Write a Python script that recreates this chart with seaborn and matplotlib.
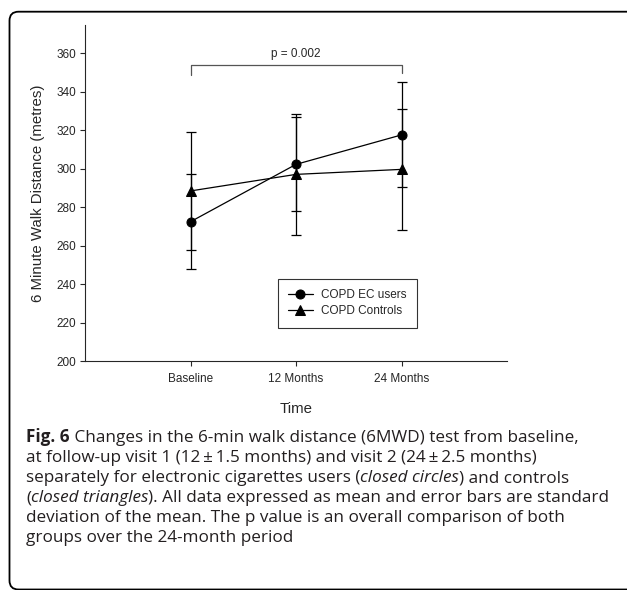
import numpy as np
import pandas as pd
import matplotlib
matplotlib.use("Agg")
import matplotlib.pyplot as plt
import seaborn as sns
from matplotlib.patches import FancyBboxPatch
from matplotlib.transforms import IdentityTransform

# -----------------------------
# DATA
# -----------------------------
visits = ["Baseline", "12 Months", "24 Months"]
groups = ["COPD EC users", "COPD Controls"]
ec_mean = [272.5, 302.3, 317.6]
ec_sd = [24.7, 24.4, 27.3]
ctrl_mean = [288.5, 297.1, 299.7]
ctrl_sd = [30.8, 31.4, 31.5]
p_text = "p = 0.002"

caption_lines = [
    [("Fig. 6", "bold"), (" Changes in the 6-min walk distance (6MWD) test from baseline,", "normal")],
    [("at follow-up visit 1 (12\u2009\u00b1\u20091.5 months) and visit 2 (24\u2009\u00b1\u20092.5 months)", "normal")],
    [("separately for electronic cigarettes users (", "normal"), ("closed circles", "italic"),
     (") and controls", "normal")],
    [("(", "normal"), ("closed triangles", "italic"),
     ("). All data expressed as mean and error bars are standard", "normal")],
    [("deviation of the mean. The p value is an overall comparison of both", "normal")],
    [("groups over the 24-month period", "normal")],
]

# -----------------------------
# STYLE
# -----------------------------
sns.set_style("ticks")
plt.rcParams["font.family"] = ["Liberation Sans", "DejaVu Sans"]
plt.rcParams["axes.linewidth"] = 0.8

W, H = 627, 590
fig = plt.figure(figsize=(W / 100, H / 100), dpi=100)

# axes placed in pixel terms
ax_l, ax_r, ax_t, ax_b = 85, 507, 25, 361.3
ax = fig.add_axes([ax_l / W, 1 - ax_b / H, (ax_r - ax_l) / W, (ax_b - ax_t) / H])

pos = np.arange(1, len(visits) + 1)
df = pd.DataFrame({
    "pos": np.concatenate([pos, pos]),
    "distance": ec_mean + ctrl_mean,
    "group": [groups[0]] * 3 + [groups[1]] * 3,
})

sns.lineplot(
    data=df, x="pos", y="distance", hue="group", style="group",
    hue_order=groups, style_order=groups,
    palette=["black", "black"], markers={groups[0]: "o", groups[1]: "^"},
    dashes=False, markersize=6.5, markeredgecolor="black", linewidth=0.9, ax=ax,
)

for m, s in [(ec_mean, ec_sd), (ctrl_mean, ctrl_sd)]:
    ax.errorbar(pos, m, yerr=s, fmt="none", ecolor="black", elinewidth=0.9,
                capsize=3.6, capthick=0.9, zorder=1)

ax.set_xlim(0, 4)
ax.set_ylim(200, 374.7)
ax.set_yticks(np.arange(200, 361, 20))
ax.set_xticks(pos)
ax.set_xticklabels(visits)
ax.tick_params(axis="both", labelsize=8.5, direction="out", length=3.6, width=0.8, pad=3)
ax.tick_params(axis="x", pad=5)
ax.set_xlabel("Time", fontsize=10.8, labelpad=12)
ax.set_ylabel("6 Minute Walk Distance (metres)", fontsize=10.8, labelpad=8)
sns.despine(ax=ax)

# significance bracket
bx = [pos[0], pos[0], pos[2], pos[2]]
by = [348.7, 354.1, 354.1, 350.0]
ax.plot(bx, by, color="#555555", linewidth=0.9, clip_on=False)
ax.text((pos[0] + pos[2]) / 2, 356.5, p_text, ha="center", va="bottom", fontsize=8.5)

leg = ax.legend(
    loc="upper left", bbox_to_anchor=(0.4566, 0.2438), fontsize=8.5, frameon=True,
    fancybox=False, edgecolor="black", borderpad=0.85, handlelength=2.1,
    handletextpad=0.75, labelspacing=0.35, borderaxespad=0,
)
leg.get_frame().set_linewidth(0.8)

# outer rounded frame (cut at right/bottom like the page crop)
frame = FancyBboxPatch((9.5, 0.5), 700, H - 11.7 - 0.5,
                       boxstyle="round,pad=0,rounding_size=9",
                       transform=IdentityTransform(), fill=False,
                       edgecolor="black", linewidth=1.3)
fig.patches.append(frame)

# caption
cap_font = ["Open Sans", "DejaVu Sans"]
baselines = [442.3, 462.3, 482.3, 502.3, 522.3, 542.3]
for segs, yb in zip(caption_lines, baselines):
    prev = None
    for txt, st in segs:
        kw = dict(fontsize=12.3, family=cap_font, color="#231f20")
        if st == "bold":
            kw["fontweight"] = "bold"
        elif st == "italic":
            kw["fontstyle"] = "italic"
        if prev is None:
            prev = fig.text(26 / W, 1 - yb / H, txt, ha="left", va="baseline", **kw)
        else:
            prev = fig.add_artist(matplotlib.text.Annotation(
                txt, xy=(1, 0), xycoords=prev, ha="left", va="bottom", **kw))

fig.savefig("out.png", dpi=100)
